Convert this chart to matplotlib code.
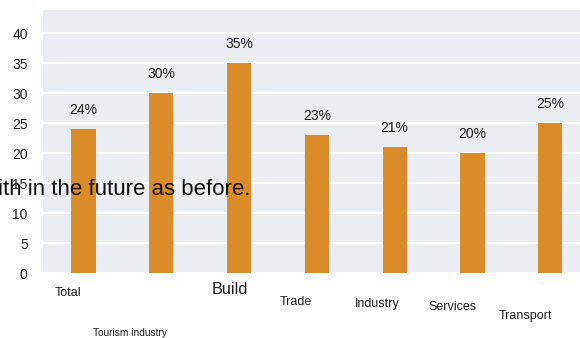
import matplotlib
matplotlib.use("Agg")
import matplotlib.pyplot as plt
from matplotlib.transforms import offset_copy

plt.rcParams['font.family'] = ['Liberation Sans', 'DejaVu Sans']

categories = ["Total", "Tourism industry", "Build", "Trade", "Industry", "Services", "Transport"]
values = [24, 30, 35, 23, 21, 20, 25]
value_labels = ["24%", "30%", "35%", "23%", "21%", "20%", "25%"]
yticks = [0, 5, 10, 15, 20, 25, 30, 35, 40]
note = "ith in the future as before."

# per-label placement (dx, dy in pixels from bar centre / axis bottom) and size
label_offsets = [(-15, -19), (-31, -59), (-9, -16), (-21, -28), (-17, -30), (-19.5, -33), (-25, -42)]
label_sizes = [9, 7.3, 11.7, 9, 9, 9, 9]

W, H = 580, 338
fig = plt.figure(figsize=(W / 100, H / 100), dpi=100)
ax = fig.add_axes([43 / W, (H - 274) / H, (W - 43) / W, 264 / H])
ax.set_facecolor("#eaedf1")

x = list(range(len(categories)))
ax.bar(x, values, width=0.31, color="#da8c2a", zorder=3)

for xi, v, lab in zip(x, values, value_labels):
    ax.annotate(lab, (xi, v), xytext=(0, 12 * 0.72), textcoords="offset points",
                ha="center", va="bottom", fontsize=10, color="#1a1a1a", zorder=4)

ax.set_xlim(-0.52, -0.52 + (W - 43) / 77.8)
ax.set_ylim(-0.1, 43.9)
ax.set_yticks(yticks)
ax.set_yticklabels([str(t) for t in yticks], fontsize=10, color="#1a1a1a")
ax.set_xticks([])
ax.tick_params(axis="y", length=0, pad=11)
ax.grid(axis="y", color="white", linewidth=1.6, zorder=1)
ax.set_axisbelow(True)
for s in ax.spines.values():
    s.set_visible(False)

# category names under the axis, staggered
base = ax.get_xaxis_transform()
for xi, name, (dx, dy), fs in zip(x, categories, label_offsets, label_sizes):
    tr = offset_copy(base, fig=fig, x=dx, y=dy, units="dots")
    ax.text(xi, 0, name, transform=tr, ha="center", va="center",
            fontsize=fs, color="#1a1a1a", clip_on=False)

fig.text(250 / W, (H - 195) / H, note, ha="right", va="baseline",
         fontsize=16, color="#111111", zorder=10)

fig.savefig("out.png", dpi=100)
